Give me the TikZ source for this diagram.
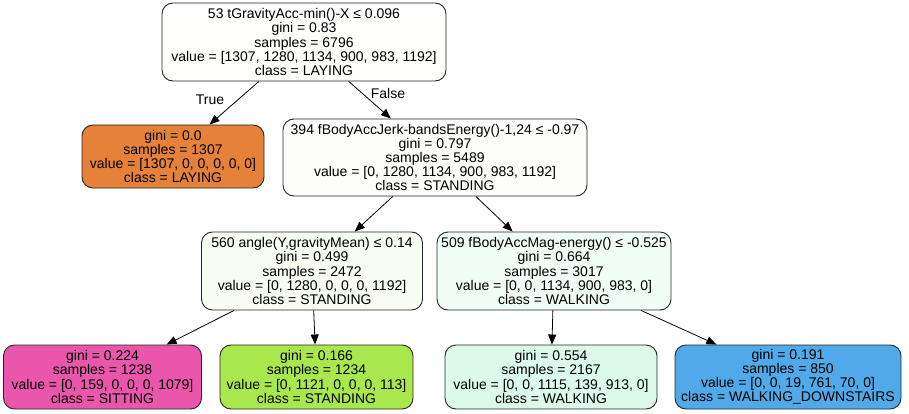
\documentclass[tikz,border=0pt]{standalone}
\usepackage{fontspec}
\setmainfont{Liberation Sans}
\usetikzlibrary{arrows.meta}
\definecolor{cRoot}{RGB}{254,254,253}
\definecolor{cLay}{RGB}{229,129,57}
\definecolor{cN394}{RGB}{253,254,251}
\definecolor{cN560}{RGB}{247,253,240}
\definecolor{cN509}{RGB}{240,253,246}
\definecolor{cSit}{RGB}{233,86,172}
\definecolor{cSta}{RGB}{168,232,77}
\definecolor{cWal}{RGB}{219,250,233}
\definecolor{cWd}{RGB}{80,169,232}
\tikzset{
  treebox/.style={draw=black!85, line width=0.9pt, rounded corners=11pt,
    align=center, inner sep=0pt, font=\fontsize{14}{14.2}\selectfont},
  treeedge/.style={line width=0.8pt, -{Triangle[length=10pt,width=8pt]}},
  edgelab/.style={font=\fontsize{14}{14.2}\selectfont, inner sep=0pt}
}
\begin{document}
\begin{tikzpicture}[x=1pt,y=-1pt]
\useasboundingbox (0,0) rectangle (909,414);
\node[treebox, fill=cRoot, minimum width=284pt, minimum height=78pt] (root) at (304,42)
  {53 tGravityAcc-min()-X ≤ 0.096\\gini = 0.83\\samples = 6796\\value = [1307, 1280, 1134, 900, 983, 1192]\\class = LAYING};
\node[treebox, fill=cLay, minimum width=182pt, minimum height=63pt] (lay) at (173,156.5)
  {gini = 0.0\\samples = 1307\\value = [1307, 0, 0, 0, 0, 0]\\class = LAYING};
\node[treebox, fill=cN394, minimum width=304pt, minimum height=77pt] (n394) at (435,157.5)
  {394 fBodyAccJerk-bandsEnergy()-1,24 ≤ -0.97\\gini = 0.797\\samples = 5489\\value = [0, 1280, 1134, 900, 983, 1192]\\class = STANDING};
\node[treebox, fill=cN560, minimum width=221pt, minimum height=78pt] (n560) at (312,271)
  {560 angle(Y,gravityMean) ≤ 0.14\\gini = 0.499\\samples = 2472\\value = [0, 1280, 0, 0, 0, 1192]\\class = STANDING};
\node[treebox, fill=cN509, minimum width=234pt, minimum height=78pt] (n509) at (554,271)
  {509 fBodyAccMag-energy() ≤ -0.525\\gini = 0.664\\samples = 3017\\value = [0, 0, 1134, 900, 983, 0]\\class = WALKING};
\node[treebox, fill=cSit, minimum width=198pt, minimum height=64pt] (sit) at (102.5,377)
  {gini = 0.224\\samples = 1238\\value = [0, 159, 0, 0, 0, 1079]\\class = SITTING};
\node[treebox, fill=cSta, minimum width=193pt, minimum height=64pt] (sta) at (316.5,377)
  {gini = 0.166\\samples = 1234\\value = [0, 1121, 0, 0, 0, 113]\\class = STANDING};
\node[treebox, fill=cWal, minimum width=212pt, minimum height=64pt] (wal) at (551,377)
  {gini = 0.554\\samples = 2167\\value = [0, 0, 1115, 139, 913, 0]\\class = WALKING};
\node[treebox, fill=cWd, minimum width=226pt, minimum height=64pt] (wd) at (788,377)
  {gini = 0.191\\samples = 850\\value = [0, 0, 19, 761, 70, 0]\\class = WALKING\_DOWNSTAIRS};
\draw[treeedge] (root) -- (lay);
\draw[treeedge] (root) -- (n394);
\draw[treeedge] (n394) -- (n560);
\draw[treeedge] (n394) -- (n509);
\draw[treeedge] (n560) -- (sit);
\draw[treeedge] (n560) -- (sta);
\draw[treeedge] (n509) -- (wal);
\draw[treeedge] (n509) -- (wd);
\node[edgelab] (ltrue) at (210,100) {True};
\node[edgelab] (lfalse) at (388,93) {False};
\end{tikzpicture}
\end{document}
